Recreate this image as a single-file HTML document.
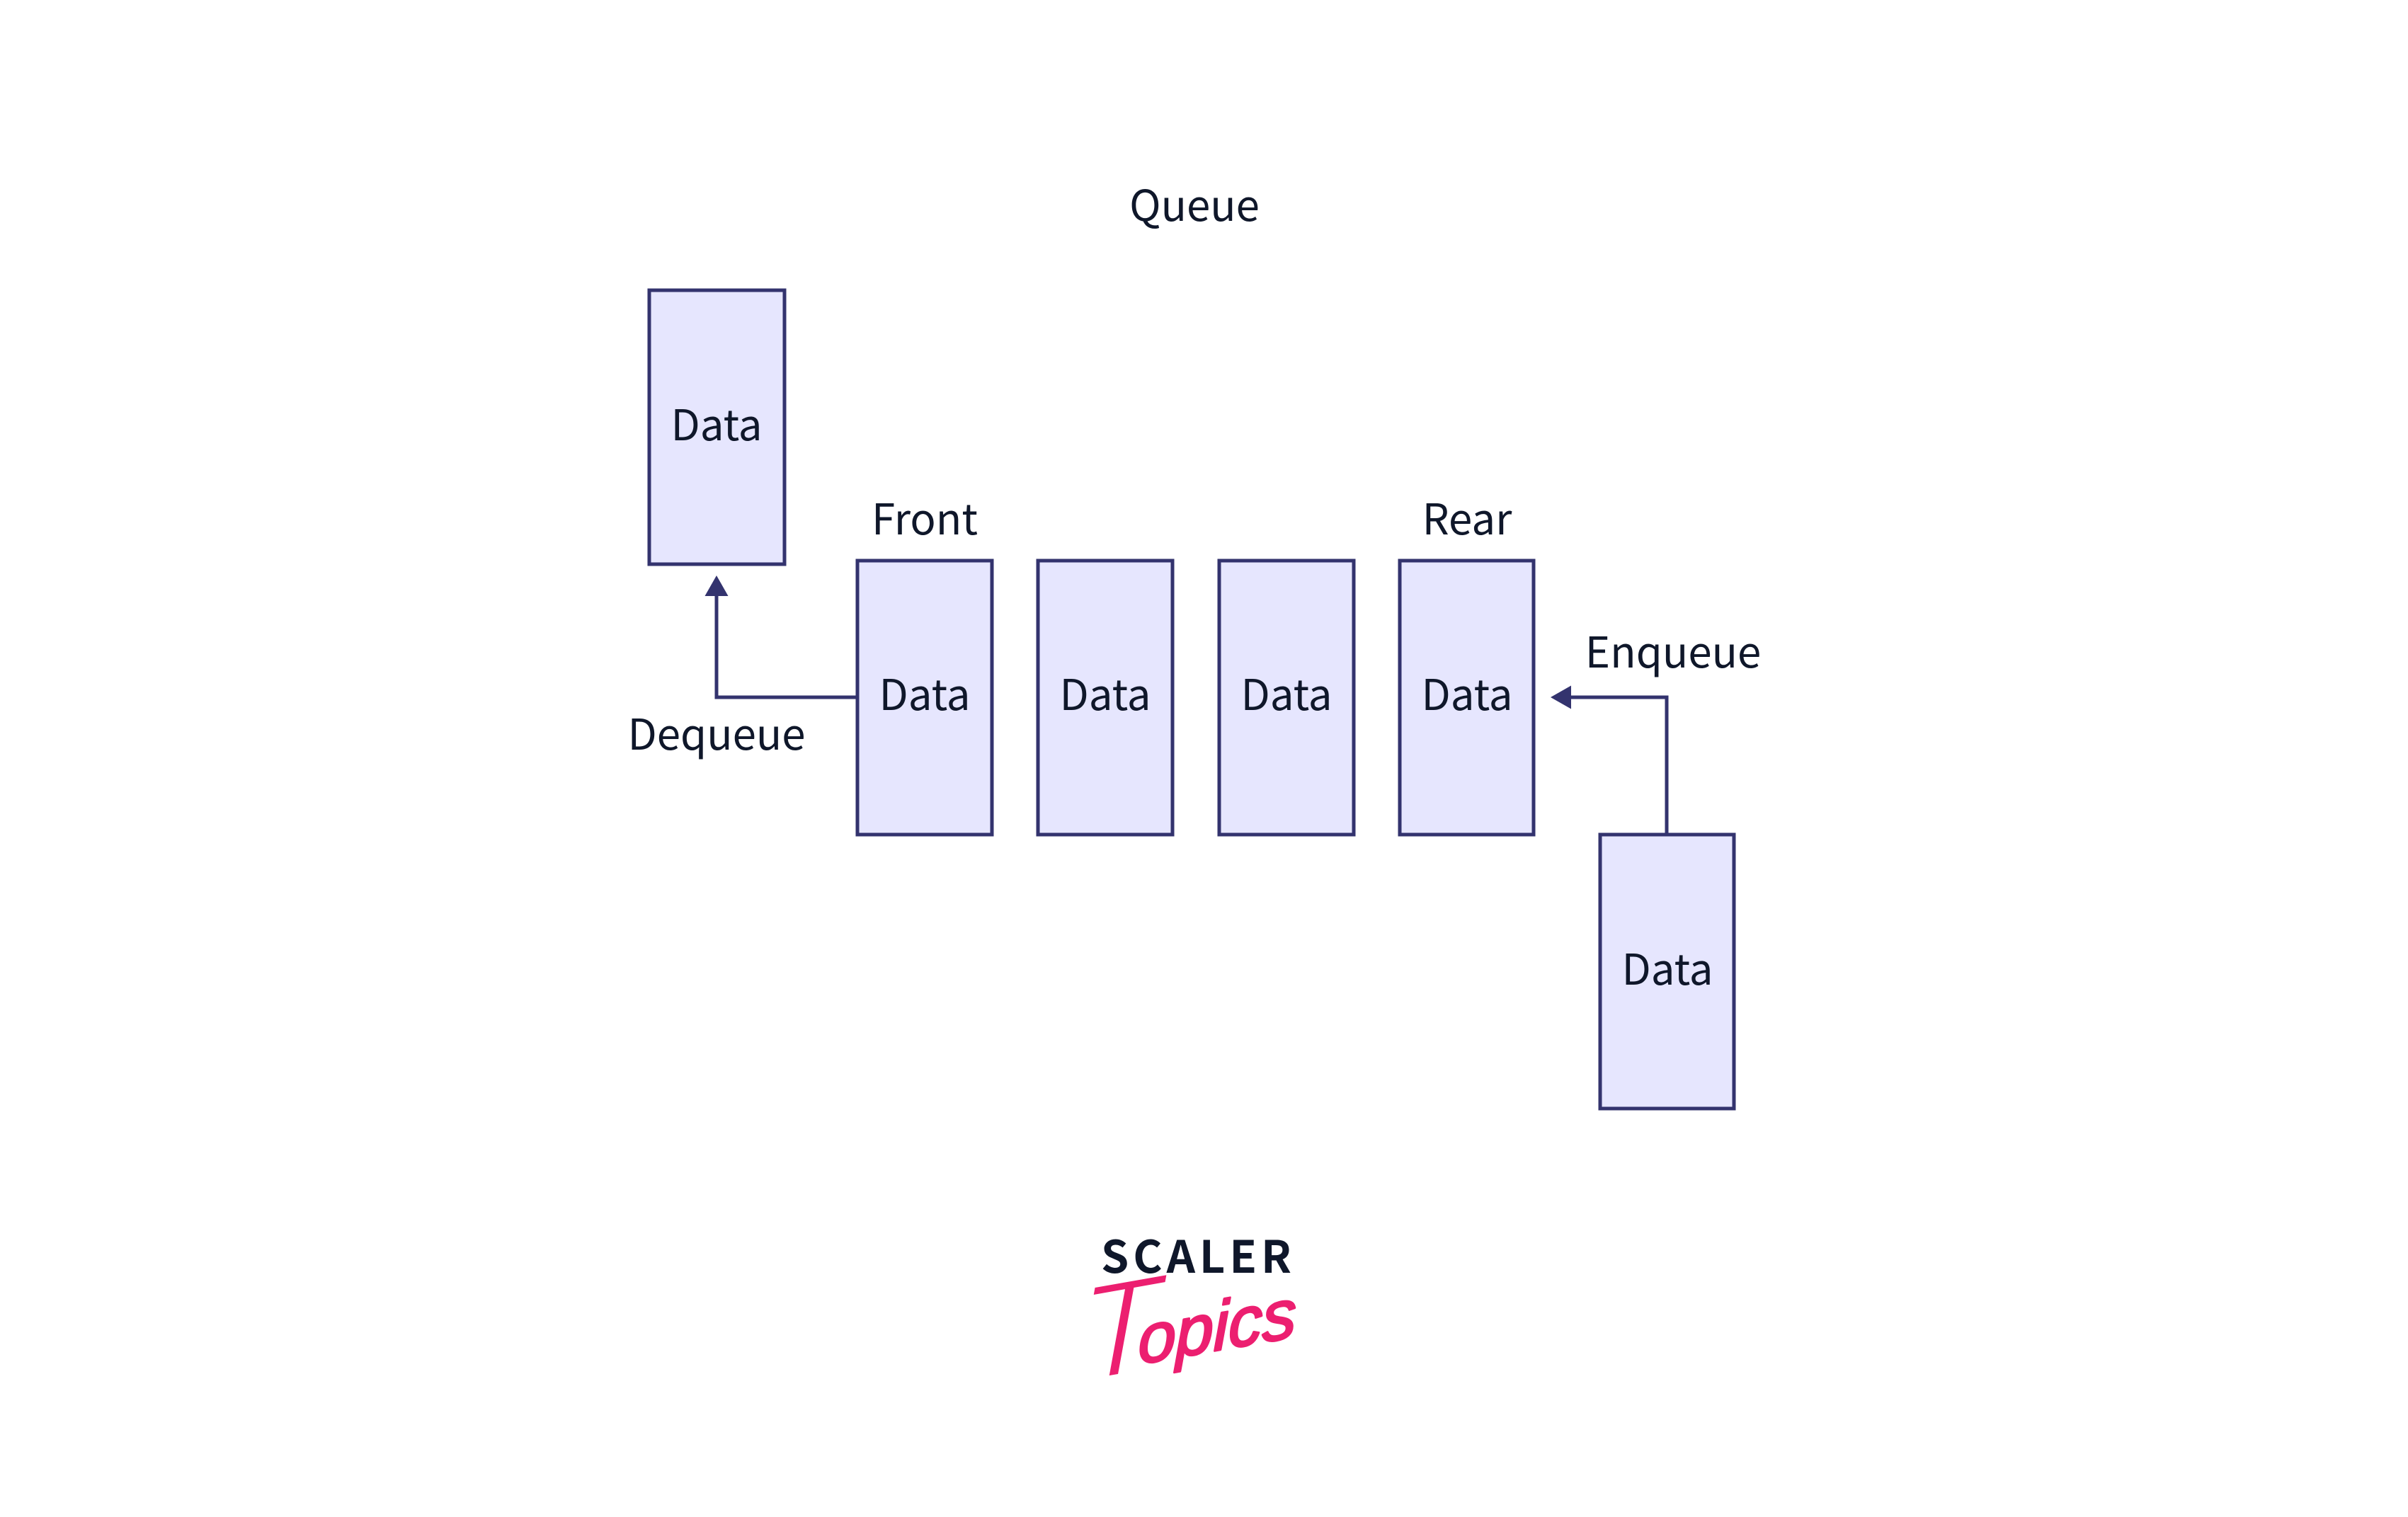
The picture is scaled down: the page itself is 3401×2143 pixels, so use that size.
<!DOCTYPE html>
<html><head><meta charset="utf-8"><style>
html,body{margin:0;padding:0;background:#fff;width:3401px;height:2143px;overflow:hidden}
svg{display:block}
.t{font-family:"Noto Sans CJK SC","Liberation Sans",sans-serif;font-size:60px;fill:#0f172a;text-anchor:middle}
.b{fill:#e6e6fe;stroke:#33336e;stroke-width:5}
.l{fill:none;stroke:#33336e;stroke-width:5}
</style></head><body>
<svg width="3401" height="2143" viewBox="0 0 3401 2143" xmlns="http://www.w3.org/2000/svg">
<rect width="3401" height="2143" fill="#fff"/>
<text class="t" x="1687" y="312">Queue</text>

<rect class="b" x="917" y="410" width="191" height="387"/>
<rect class="b" x="1211" y="792" width="190" height="387"/>
<rect class="b" x="1466" y="792" width="190" height="387"/>
<rect class="b" x="1722" y="792" width="190" height="387"/>
<rect class="b" x="1977" y="792" width="189" height="387"/>
<rect class="b" x="2260" y="1179" width="189" height="387"/>

<path class="l" d="M1211 985H1012V840"/>
<polygon points="1012,813 995.500,842 1028.500,842" fill="#33336e"/>
<path class="l" d="M2354 1179V985H2217"/>
<polygon points="2190,985 2219,968.500 2219,1001.500" fill="#33336e"/>

<text class="t" x="1012" y="622">Data</text>
<text class="t" x="1306" y="1003">Data</text>
<text class="t" x="1561" y="1003">Data</text>
<text class="t" x="1817" y="1003">Data</text>
<text class="t" x="2072" y="1003">Data</text>
<text class="t" x="2355" y="1391">Data</text>
<text class="t" x="1306" y="755">Front</text>
<text class="t" x="2072" y="755">Rear</text>
<text class="t" x="2363" y="943">Enqueue</text>
<text class="t" x="1012" y="1059">Dequeue</text>

<text transform="translate(1525 1953) rotate(-10) skewX(-10)" font-family="'Liberation Sans',sans-serif" font-style="italic" fill="#ec1f70"><tspan font-size="190" stroke="#fff" stroke-width="5">T</tspan><tspan font-size="97" dx="-32" dy="-11" stroke="#ec1f70" stroke-width="3" stroke-linejoin="round">opics</tspan></text>
<text x="1555" y="1798" textLength="269" lengthAdjust="spacing" font-family="'Noto Sans CJK SC','Liberation Sans',sans-serif" font-weight="700" font-size="63" fill="#0f172a">SCALER</text>
</svg>
</body></html>
